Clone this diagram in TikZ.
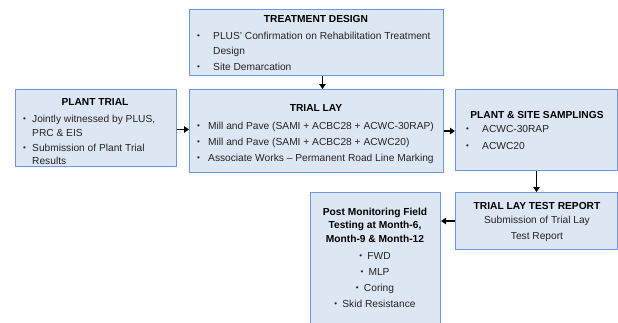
\documentclass[tikz,border=0pt]{standalone}
\usepackage{fontspec}
\setmainfont{Liberation Sans}
\usetikzlibrary{arrows.meta}
\definecolor{boxfill}{RGB}{221,231,244}
\definecolor{boxline}{RGB}{112,150,220}
\definecolor{bodytext}{RGB}{35,35,35}
\newcommand\bl[1]{\makebox[#1][l]{\fontsize{8}{8}\selectfont\raisebox{0.6pt}{•}}}
\begin{document}
\begin{tikzpicture}[x=1pt,y=-1pt,
  box/.style={draw=boxline,fill=boxfill,line width=1pt,anchor=north west,inner sep=0pt},
  ttl/.style={font=\fontsize{10.2}{12}\selectfont\bfseries,anchor=base,inner sep=0pt,text=black},
  txt/.style={font=\fontsize{10.2}{12}\selectfont,anchor=base west,inner sep=0pt,text=bodytext},
  ctxt/.style={txt,anchor=base},
  arr/.style={line width=1.6pt,-{Triangle[width=6.5pt,length=5pt]}}]
\useasboundingbox (0,0) rectangle (618,322);
% boxes
\node[box,minimum width=254pt,minimum height=66pt] (td) at (189,9) {};
\node[box,minimum width=161pt,minimum height=77pt] (pt) at (15,89) {};
\node[box,minimum width=254pt,minimum height=83pt] (tl) at (189,89) {};
\node[box,minimum width=162pt,minimum height=81pt] (ps) at (455,89) {};
\node[box,minimum width=162pt,minimum height=57pt] (tr) at (455,192) {};
\node[box,minimum width=130pt,minimum height=131pt] (pm) at (310,192) {};
% treatment design
\node[ttl] (tdT) at (316,22) {TREATMENT DESIGN};
\node[txt] (td1) at (197,39) {\bl{16pt}PLUS’ Confirmation on Rehabilitation Treatment};
\node[txt] (td2) at (213,54) {Design};
\node[txt] (td3) at (197,70) {\bl{16pt}Site Demarcation};
% plant trial
\node[ttl] (ptT) at (95,105) {PLANT TRIAL};
\node[txt] (pt1) at (23,122) {\bl{9pt}Jointly witnessed by PLUS,};
\node[txt] (pt2) at (32,136) {PRC \& EIS};
\node[txt] (pt3) at (23,151) {\bl{9pt}Submission of Plant Trial};
\node[txt] (pt4) at (32,164) {Results};
% trial lay
\node[ttl] (tlT) at (316,111) {TRIAL LAY};
\node[txt] (tl1) at (197,129) {\bl{11pt}Mill and Pave (SAMI + ACBC28 + ACWC-30RAP)};
\node[txt] (tl2) at (197,145) {\bl{11pt}Mill and Pave (SAMI + ACBC28 + ACWC20)};
\node[txt] (tl3) at (197,161) {\bl{11pt}Associate Works – Permanent Road Line Marking};
% plant & site samplings
\node[ttl] (psT) at (537,118) {PLANT \& SITE SAMPLINGS};
\node[txt] (ps1) at (466,132) {\bl{16pt}ACWC-30RAP};
\node[txt] (ps2) at (466,149) {\bl{16pt}ACWC20};
% trial lay test report
\node[ttl] (trT) at (537,209) {TRIAL LAY TEST REPORT};
\node[ctxt] (tr1) at (537,223) {Submission of Trial Lay};
\node[ctxt] (tr2) at (537,239) {Test Report};
% post monitoring
\node[ttl] (pmT1) at (375,215) {Post Monitoring Field};
\node[ttl] (pmT2) at (375,228.5) {Testing at Month-6,};
\node[ttl] (pmT3) at (375,242) {Month-9 \& Month-12};
\node[ctxt] (pm1) at (375,259) {\bl{8pt}FWD};
\node[ctxt] (pm2) at (375,275) {\bl{8pt}MLP};
\node[ctxt] (pm3) at (375,291) {\bl{8pt}Coring};
\node[ctxt] (pm4) at (375,307) {\bl{8pt}Skid Resistance};
% connectors
\draw[arr] ([xshift=6pt]td.south) -- ([xshift=6pt]tl.north);
\draw[arr] ([yshift=-1.5pt]pt.east) -- ([yshift=-1.5pt]pt.east -| tl.west);
\draw[arr] (tl.east) -- (tl.east -| ps.west);
\draw[arr] (ps.south) -- (tr.north);
\draw[arr] (tr.west) -- (tr.west -| pm.east);
\end{tikzpicture}
\end{document}
